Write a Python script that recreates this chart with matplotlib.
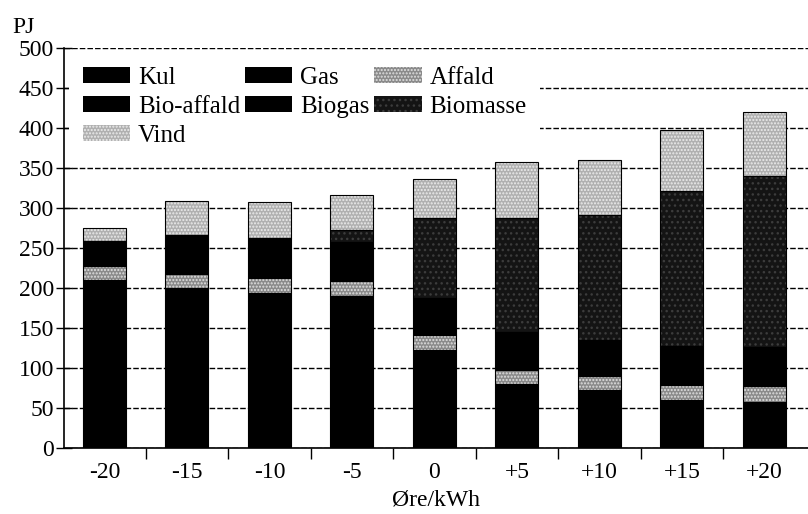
import matplotlib
matplotlib.use('Agg')
import matplotlib.pyplot as plt
import numpy as np

plt.rcParams['font.family'] = ['Liberation Serif', 'DejaVu Serif']
plt.rcParams['hatch.linewidth'] = 1.0

# data (PJ)
labels = ['-20', '-15', '-10', '-5', '0', '+5', '+10', '+15', '+20']
kul = [200, 190, 184, 180, 112, 70, 62, 50, 48]
gas = [10, 10, 10, 10, 10, 10, 10, 10, 10]
affald = [18, 18, 19, 19, 19, 18, 18, 19, 20]
bio_affald = [31, 30, 30, 30, 30, 30, 30, 30, 30]
biogas = [0, 18, 19, 18, 16, 17, 15, 18, 18]
biomasse = [0, 0, 0, 15, 100, 143, 156, 194, 214]
vind = [16, 43, 45, 44, 49, 69, 69, 77, 80]

series = [
    ('Kul', kul, 'black', None, 'black'),
    ('Gas', gas, 'black', None, 'black'),
    ('Affald', affald, '#8a8a8a', '.....', '#e0e0e0'),
    ('Bio-affald', bio_affald, 'black', None, 'black'),
    ('Biogas', biogas, 'black', None, 'black'),
    ('Biomasse', biomasse, '#141414', '...', '#3c3c3c'),
    ('Vind', vind, '#b0b0b0', '.....', '#ececec'),
]

fig = plt.figure(figsize=(8.08, 5.14), dpi=100)
ax = fig.add_axes([0.0792, 0.1284, 0.921, 0.778])

x = np.arange(len(labels))
w = 0.52
bottom = np.zeros(len(labels))
handles = {}
for name, vals, fc, hatch, hc in series:
    vals = np.array(vals, dtype=float)
    b = ax.bar(x, vals, w, bottom=bottom, color=fc, hatch=hatch,
               edgecolor=hc, linewidth=0, label=name, zorder=2)
    # segment outline
    ax.bar(x, vals, w, bottom=bottom, fill=False, edgecolor='black',
           linewidth=0.8, zorder=3)
    handles[name] = b
    bottom += vals

ax.set_xlim(-0.49, 8.53)
ax.set_ylim(0, 500)
ax.set_yticks(np.arange(0, 501, 50))
ax.yaxis.grid(True, color='black', linestyle=(0, (4, 1.5)), linewidth=1)
ax.set_axisbelow(True)

ax.set_xticks(x)
ax.set_xticklabels(labels)
ax.set_xticks(np.arange(0.5, 8, 1), minor=True)
ax.tick_params(axis='x', which='major', length=0, labelsize=17, pad=10)
ax.tick_params(axis='x', which='minor', direction='out', length=8, width=1)
ax.tick_params(axis='y', direction='inout', length=12, width=1, labelsize=17, pad=1)

for s in ['top', 'right']:
    ax.spines[s].set_visible(False)
ax.spines['left'].set_linewidth(1.2)
ax.spines['bottom'].set_linewidth(1.2)

ax.set_xlabel('Øre/kWh', fontsize=17, labelpad=5)
fig.text(0.015, 0.935, 'PJ', fontsize=17)

order = ['Kul', 'Bio-affald', 'Vind', 'Gas', 'Biogas', 'Affald', 'Biomasse']
leg = ax.legend([handles[n] for n in order], order, ncol=3, loc='upper left',
                bbox_to_anchor=(0.0, 1.0), fontsize=18, frameon=True,
                fancybox=False, framealpha=1, edgecolor='none',
                handlelength=1.9, handleheight=0.55, handletextpad=0.3,
                columnspacing=0.2, labelspacing=0.28, borderpad=0.55,
                borderaxespad=0.2)
leg.set_zorder(5)

fig.savefig('out.png', dpi=100)
